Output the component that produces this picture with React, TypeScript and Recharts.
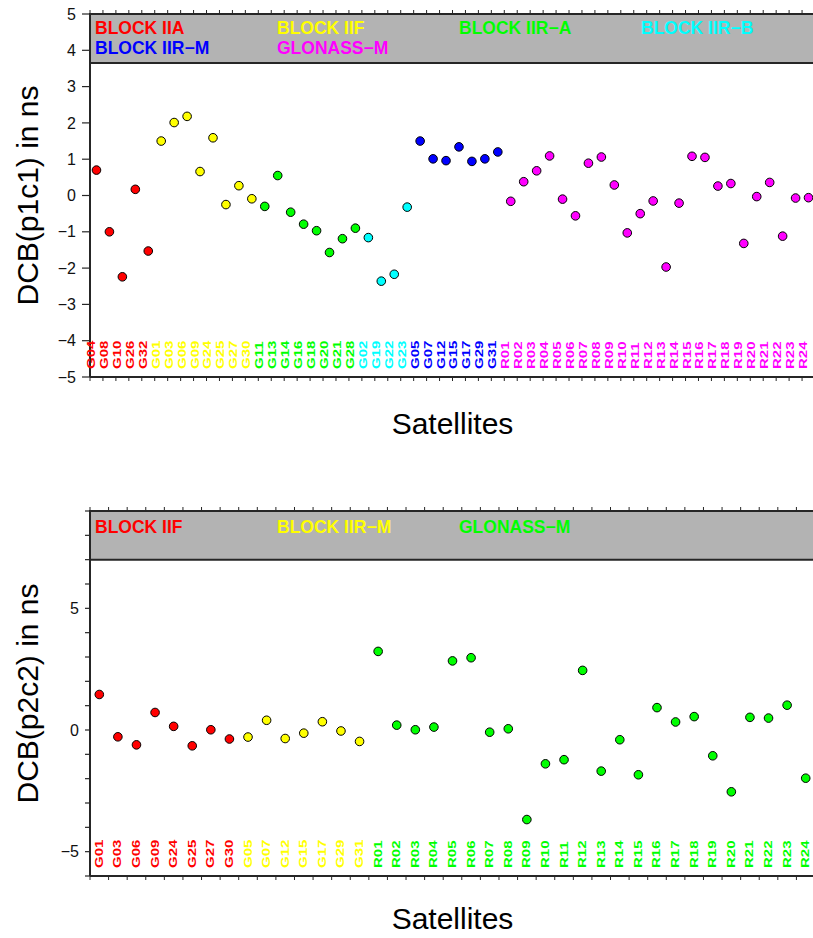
import React from 'react';
import { ScatterChart, Scatter, XAxis, YAxis, ReferenceArea, ReferenceLine } from 'recharts';

const RED = '#ff0000';
const YELLOW = '#ffff00';
const GREEN = '#00ff00';
const CYAN = '#00ffff';
const BLUE = '#0000ff';
const MAGENTA = '#ff00ff';

const FONT = '"Liberation Sans", Arial, Helvetica, sans-serif';

// satellite groups
const blockIIA_1 = ['G04', 'G08', 'G10', 'G26', 'G32'];
const blockIIF_1 = ['G01', 'G03', 'G06', 'G09', 'G24', 'G25', 'G27', 'G30'];
const blockIIRA_1 = ['G11', 'G13', 'G14', 'G16', 'G18', 'G20', 'G21', 'G28'];
const blockIIRB_1 = ['G02', 'G19', 'G22', 'G23'];
const blockIIRM_1 = ['G05', 'G07', 'G12', 'G15', 'G17', 'G29', 'G31'];
const glonass = [
  'R01', 'R02', 'R03', 'R04', 'R05', 'R06', 'R07', 'R08', 'R09', 'R10', 'R11', 'R12',
  'R13', 'R14', 'R15', 'R16', 'R17', 'R18', 'R19', 'R20', 'R21', 'R22', 'R23', 'R24',
];

// DCB(p1c1) in ns
const p1c1IIA = [0.7, -1.0, -2.24, 0.17, -1.53];
const p1c1IIF = [1.5, 2.01, 2.18, 0.66, 1.59, -0.25, 0.27, -0.09];
const p1c1IIRA = [-0.3, 0.55, -0.46, -0.79, -0.97, -1.57, -1.19, -0.9];
const p1c1IIRB = [-1.16, -2.36, -2.17, -0.32];
const p1c1IIRM = [1.5, 1.01, 0.96, 1.34, 0.94, 1.01, 1.2];
const p1c1Glonass = [
  -0.16, 0.38, 0.68, 1.09, -0.1, -0.56, 0.89, 1.06, 0.29, -1.03, -0.5, -0.15,
  -1.97, -0.21, 1.08, 1.05, 0.26, 0.33, -1.32, -0.03, 0.36, -1.12, -0.07, -0.06,
];

// DCB(p2c2) in ns
const blockIIF_2 = ['G01', 'G03', 'G06', 'G09', 'G24', 'G25', 'G27', 'G30'];
const blockIIRM_2 = ['G05', 'G07', 'G12', 'G15', 'G17', 'G29', 'G31'];
const p2c2IIF = [1.46, -0.28, -0.61, 0.72, 0.15, -0.65, 0.01, -0.37];
const p2c2IIRM = [-0.29, 0.4, -0.35, -0.13, 0.34, -0.04, -0.47];
const p2c2Glonass = [
  3.23, 0.2, 0.01, 0.12, 2.84, 2.97, -0.09, 0.05, -3.68, -1.39, -1.22, 2.45,
  -1.69, -0.4, -1.84, 0.92, 0.33, 0.55, -1.06, -2.54, 0.52, 0.49, 1.02, -1.98,
];

const topYTicks = [-5, -4, -3, -2, -1, 0, 1, 2, 3, 4, 5];
const bottomYTicks = [-6, -5, -4, -3, -2, -1, 0, 1, 2, 3, 4, 5, 6, 7, 8, 9];

type Group = { name: string; color: string; sats: string[]; values: number[] };

const topGroups: Group[] = [
  { name: 'BLOCK IIA', color: RED, sats: blockIIA_1, values: p1c1IIA },
  { name: 'BLOCK IIF', color: YELLOW, sats: blockIIF_1, values: p1c1IIF },
  { name: 'BLOCK IIR−A', color: GREEN, sats: blockIIRA_1, values: p1c1IIRA },
  { name: 'BLOCK IIR−B', color: CYAN, sats: blockIIRB_1, values: p1c1IIRB },
  { name: 'BLOCK IIR−M', color: BLUE, sats: blockIIRM_1, values: p1c1IIRM },
  { name: 'GLONASS−M', color: MAGENTA, sats: glonass, values: p1c1Glonass },
];

const bottomGroups: Group[] = [
  { name: 'BLOCK IIF', color: RED, sats: blockIIF_2, values: p2c2IIF },
  { name: 'BLOCK IIR−M', color: YELLOW, sats: blockIIRM_2, values: p2c2IIRM },
  { name: 'GLONASS−M', color: GREEN, sats: glonass, values: p2c2Glonass },
];

const AXIS = '#262626';
const CHART_W = 820;
const Y_AXIS_W = 90;
const minus = (v: number) => String(v).replace('-', '−');

type PanelProps = {
  groups: Group[];
  height: number;
  margin: { top: number; right: number; bottom: number; left: number };
  yDomain: [number, number];
  yTicks: number[];
  yFormat: (v: number) => string;
  yTickSize: number;
  grey: [number, number];
  legendDy: number;
  labelDx: number;
  yTitle: string;
  xTitleDy: number;
};

const Panel = (p: PanelProps) => {
  const cats: string[] = [];
  const colors: string[] = [];
  const series = p.groups.map((g) => {
    const start = cats.length;
    g.sats.forEach((s) => {
      cats.push(s);
      colors.push(g.color);
    });
    return { ...g, data: g.values.map((v, i) => ({ x: start + i, y: v })) };
  });
  const n = cats.length;
  const domain: [number, number] = [-0.5, n - 0.5];
  // satellite names sit on the integers, tick marks on the half-steps between them
  const xTicks: number[] = [];
  for (let k = 0; k <= n; k++) {
    xTicks.push(k - 0.5);
    if (k < n) xTicks.push(k);
  }
  const plotTop = p.margin.top;
  const plotW = CHART_W - p.margin.right - p.margin.left - Y_AXIS_W;

  const satTick = (props: any) => {
    const { x, y, payload } = props;
    const v = payload.value;
    if (!Number.isInteger(v)) {
      return (
        <g>
          {v === -0.5 && (
            <line x1={x} x2={x + plotW} y1={y} y2={y} stroke={AXIS} strokeWidth={2} />
          )}
          <line x1={x} x2={x} y1={y} y2={y + 4} stroke={AXIS} strokeWidth={1} />
          <line x1={x} x2={x} y1={plotTop} y2={plotTop - 4} stroke={AXIS} strokeWidth={1} />
        </g>
      );
    }
    return (
      <text
        transform={`translate(${x + p.labelDx},${y - 8}) rotate(-90) scale(1,0.78)`}
        fontSize={15}
        fontWeight="bold"
        fontFamily={FONT}
        fill={colors[v]}
        textAnchor="start"
      >
        {cats[v]}
      </text>
    );
  };

  const legend = (props: any) => {
    const vb = props.viewBox;
    return (
      <g>
        {p.groups.map((g, i) => (
          <text
            key={g.name}
            x={vb.x + 5 + (i % 4) * 182}
            y={vb.y + p.legendDy + Math.floor(i / 4) * 20}
            fontSize={17.5}
            fontWeight="bold"
            fontFamily={FONT}
            fill={g.color}
          >
            {g.name}
          </text>
        ))}
      </g>
    );
  };

  const yTitle = (props: any) => {
    const vb = props.viewBox;
    return (
      <text
        transform={`translate(38,${vb.y + vb.height / 2}) rotate(-90)`}
        textAnchor="middle"
        fontSize={30}
        fontFamily={FONT}
        fill="#000"
      >
        {p.yTitle}
      </text>
    );
  };

  const xTitle = (props: any) => {
    const vb = props.viewBox;
    return (
      <text
        x={vb.x + vb.width / 2}
        y={vb.y + p.xTitleDy}
        textAnchor="middle"
        fontSize={30}
        fontFamily={FONT}
        fill="#000"
      >
        Satellites
      </text>
    );
  };

  return (
    <ScatterChart width={CHART_W} height={p.height} margin={p.margin}>
      <XAxis
        xAxisId="pos"
        type="number"
        dataKey="x"
        domain={domain}
        ticks={xTicks}
        interval={0}
        height={1}
        axisLine={{ stroke: AXIS, strokeWidth: 2 }}
        tickLine={false}
        tickSize={0}
        tickMargin={0}
        tick={satTick}
        allowDataOverflow
        label={{ content: xTitle }}
      />
      <YAxis
        type="number"
        dataKey="y"
        domain={p.yDomain}
        ticks={p.yTicks}
        interval={0}
        width={Y_AXIS_W}
        allowDataOverflow
        tickFormatter={p.yFormat}
        tickSize={p.yTickSize}
        tickMargin={6}
        axisLine={{ stroke: AXIS, strokeWidth: 2 }}
        tickLine={{ stroke: AXIS, strokeWidth: 1.2 }}
        tick={{ fontSize: 16, fontFamily: FONT, fill: '#111' }}
        label={{ content: yTitle }}
      />
      <ReferenceArea
        xAxisId="pos"
        y1={p.grey[0]}
        y2={p.grey[1]}
        fill="#b3b3b3"
        fillOpacity={1}
        stroke={AXIS}
        strokeWidth={2}
        label={{ content: legend }}
      />
      <ReferenceLine xAxisId="pos" y={p.yDomain[0]} stroke={AXIS} strokeWidth={2} />
      {series.map((s) => (
        <Scatter
          key={s.name}
          xAxisId="pos"
          data={s.data}
          fill={s.color}
          isAnimationActive={false}
          shape={(sp: any) => (
            <circle cx={sp.cx} cy={sp.cy} r={4.3} fill={s.color} stroke="#000" strokeWidth={1} />
          )}
        />
      ))}
    </ScatterChart>
  );
};

export default function App() {
  return (
    <div
      style={{
        position: 'absolute',
        left: 0,
        top: 0,
        width: 813,
        height: 938,
        overflow: 'hidden',
        background: '#fff',
      }}
    >
      <Panel
        groups={topGroups}
        height={450}
        margin={{ top: 14, right: 5, bottom: 72, left: 0 }}
        yDomain={[-5, 5]}
        yTicks={topYTicks}
        yFormat={minus}
        yTickSize={8}
        grey={[3.65, 5]}
        legendDy={19.5}
        labelDx={-1.5}
        yTitle="DCB(p1c1) in ns"
        xTitleDy={57}
      />
      <Panel
        groups={bottomGroups}
        height={488}
        margin={{ top: 61, right: 5, bottom: 61, left: 0 }}
        yDomain={[-6, 9]}
        yTicks={bottomYTicks}
        yFormat={(v: number) => (v % 5 === 0 ? minus(v) : '')}
        yTickSize={5}
        grey={[7, 9]}
        legendDy={21.5}
        labelDx={3.5}
        yTitle="DCB(p2c2) in ns"
        xTitleDy={53}
      />
    </div>
  );
}
